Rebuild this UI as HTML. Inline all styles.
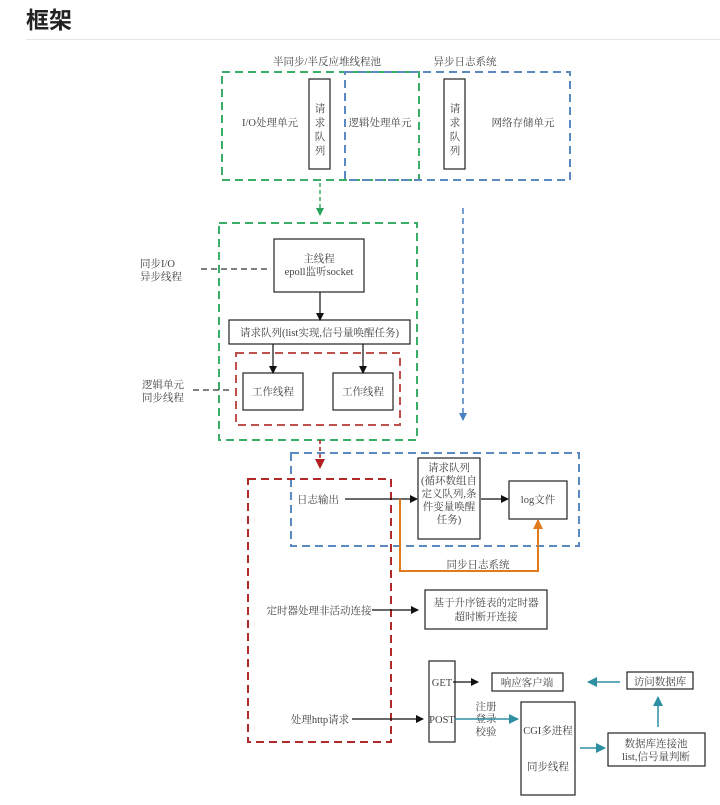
<!DOCTYPE html>
<html><head><meta charset="utf-8"><style>
html,body{margin:0;padding:0;background:#fff;width:720px;height:805px;overflow:hidden}
svg text{font-family:"Liberation Serif","Noto Serif CJK SC",serif;font-size:10.5px;fill:#444}
</style></head><body>
<svg width="720" height="805" xmlns="http://www.w3.org/2000/svg">
<defs>
<marker id="ak" markerWidth="8" markerHeight="8" refX="7" refY="4" orient="auto" markerUnits="userSpaceOnUse"><path d="M0,0 L8,4 L0,8z" fill="#111"/></marker>
<marker id="ag" markerWidth="8" markerHeight="8" refX="7" refY="4" orient="auto" markerUnits="userSpaceOnUse"><path d="M0,0 L8,4 L0,8z" fill="#2aa35a"/></marker>
<marker id="ab" markerWidth="8" markerHeight="8" refX="7" refY="4" orient="auto" markerUnits="userSpaceOnUse"><path d="M0,0 L8,4 L0,8z" fill="#4a7fc0"/></marker>
<marker id="ar" markerWidth="10" markerHeight="10" refX="9" refY="5" orient="auto" markerUnits="userSpaceOnUse"><path d="M0,0 L10,5 L0,10z" fill="#b01e1e"/></marker>
<marker id="ao" markerWidth="10" markerHeight="10" refX="9" refY="5" orient="auto" markerUnits="userSpaceOnUse"><path d="M0,0 L10,5 L0,10z" fill="#e07a1a"/></marker>
<marker id="at" markerWidth="10" markerHeight="10" refX="9" refY="5" orient="auto" markerUnits="userSpaceOnUse"><path d="M0,0 L10,5 L0,10z" fill="#2e8fa3"/></marker>
</defs>
<text x="26" y="28" style="font-family:'Liberation Sans','Noto Sans CJK SC',sans-serif;font-size:23px;font-weight:bold;fill:#222">框架</text>
<line x1="26" y1="39.5" x2="720" y2="39.5" stroke="#e5e5e5"/>

<g fill="none" stroke-width="2" stroke-dasharray="8,5">
<rect x="222" y="72" width="197" height="108" stroke="#3aae66"/>
<rect x="345" y="72" width="225" height="108" stroke="#5a8ac0"/>
<rect x="219" y="223" width="198" height="217" stroke="#3aae66"/>
<rect x="236" y="353" width="164" height="72" stroke="#c0504d"/>
<rect x="291" y="453" width="288" height="93" stroke="#5a8ac0"/>
<rect x="248" y="479" width="143" height="263" stroke="#b02a2a"/>
</g>
<text x="327" y="65" text-anchor="middle">半同步/半反应堆线程池</text>
<text x="465" y="65" text-anchor="middle">异步日志系统</text>
<g fill="#fff" stroke="#222" stroke-width="1.2">
<rect x="309" y="79" width="21" height="90"/>
<rect x="444" y="79" width="21" height="90"/>
<rect x="274" y="239" width="90" height="53"/>
<rect x="229" y="320" width="181" height="24"/>
<rect x="243" y="373" width="60" height="37"/>
<rect x="333" y="373" width="60" height="37"/>
<rect x="418" y="458" width="62" height="81"/>
<rect x="509" y="481" width="58" height="38"/>
<rect x="425" y="590" width="122" height="39"/>
<rect x="429" y="661" width="26" height="81"/>
<rect x="492" y="673" width="71" height="18"/>
<rect x="627" y="672" width="66" height="17"/>
<rect x="521" y="702" width="54" height="93"/>
<rect x="608" y="733" width="97" height="33"/>
</g>
<text x="270" y="126" text-anchor="middle">I/O处理单元</text>
<text x="320" y="112" text-anchor="middle">请</text><text x="320" y="126" text-anchor="middle">求</text><text x="320" y="140" text-anchor="middle">队</text><text x="320" y="154" text-anchor="middle">列</text>
<text x="380" y="126" text-anchor="middle">逻辑处理单元</text>
<text x="455" y="112" text-anchor="middle">请</text><text x="455" y="126" text-anchor="middle">求</text><text x="455" y="140" text-anchor="middle">队</text><text x="455" y="154" text-anchor="middle">列</text>
<text x="523" y="126" text-anchor="middle">网络存储单元</text>

<line x1="320" y1="183" x2="320" y2="215" stroke="#3aae66" stroke-width="1.5" stroke-dasharray="4,3" marker-end="url(#ag)"/>
<line x1="463" y1="208" x2="463" y2="420" stroke="#4a7fc0" stroke-width="1.5" stroke-dasharray="6,4" marker-end="url(#ab)"/>

<text x="319" y="262" text-anchor="middle">主线程</text>
<text x="319" y="275" text-anchor="middle">epoll监听socket</text>
<text x="319.5" y="336" text-anchor="middle">请求队列(list实现,信号量唤醒任务)</text>
<text x="273" y="395" text-anchor="middle">工作线程</text>
<text x="363" y="395" text-anchor="middle">工作线程</text>
<text x="140" y="267">同步I/O</text><text x="140" y="280">异步线程</text>
<text x="142" y="388">逻辑单元</text><text x="142" y="401">同步线程</text>
<g stroke="#555" stroke-width="1.5" stroke-dasharray="6,4"><line x1="201" y1="269" x2="268" y2="269"/><line x1="193" y1="390" x2="233" y2="390"/></g>
<g stroke="#111" stroke-width="1.2">
<line x1="320" y1="292" x2="320" y2="320" marker-end="url(#ak)"/>
<line x1="273" y1="344" x2="273" y2="373" marker-end="url(#ak)"/>
<line x1="363" y1="344" x2="363" y2="373" marker-end="url(#ak)"/>
<line x1="345" y1="499" x2="417" y2="499" marker-end="url(#ak)"/>
<line x1="481" y1="499" x2="508" y2="499" marker-end="url(#ak)"/>
<line x1="372" y1="610" x2="418" y2="610" marker-end="url(#ak)"/>
<line x1="352" y1="719" x2="423" y2="719" marker-end="url(#ak)"/>
<line x1="453" y1="682" x2="478" y2="682" marker-end="url(#ak)"/>
</g>
<line x1="320" y1="440" x2="320" y2="468" stroke="#b01e1e" stroke-width="1.5" stroke-dasharray="4,3" marker-end="url(#ar)"/>
<polyline points="400,499 400,571 538,571 538,520" fill="none" stroke="#e07a1a" stroke-width="2" marker-end="url(#ao)"/>
<text x="318" y="503" text-anchor="middle">日志输出</text>
<text x="449" y="471" text-anchor="middle">请求队列</text>
<text x="449" y="484" text-anchor="middle">(循环数组自</text>
<text x="449" y="497" text-anchor="middle">定义队列,条</text>
<text x="449" y="510" text-anchor="middle">件变量唤醒</text>
<text x="449" y="523" text-anchor="middle">任务)</text>
<text x="538" y="503" text-anchor="middle">log文件</text>
<text x="478" y="568" text-anchor="middle">同步日志系统</text>
<text x="319" y="614" text-anchor="middle">定时器处理非活动连接</text>
<text x="486" y="606" text-anchor="middle">基于升序链表的定时器</text>
<text x="486" y="620" text-anchor="middle">超时断开连接</text>
<text x="442" y="686" text-anchor="middle">GET</text>
<text x="442" y="723" text-anchor="middle">POST</text>
<text x="320" y="723" text-anchor="middle">处理http请求</text>
<text x="527" y="686" text-anchor="middle">响应客户端</text>
<text x="660" y="685" text-anchor="middle">访问数据库</text>
<text x="486" y="710" text-anchor="middle">注册</text><text x="486" y="722" text-anchor="middle">登录</text><text x="486" y="735" text-anchor="middle">校验</text>
<text x="548" y="734" text-anchor="middle">CGI多进程</text>
<text x="548" y="770" text-anchor="middle">同步线程</text>
<text x="656" y="747" text-anchor="middle">数据库连接池</text>
<text x="656" y="760" text-anchor="middle">list,信号量判断</text>
<g stroke="#2e8fa3" stroke-width="1.5">
<line x1="455" y1="719" x2="518" y2="719" marker-end="url(#at)"/>
<line x1="580" y1="748" x2="605" y2="748" marker-end="url(#at)"/>
<line x1="658" y1="727" x2="658" y2="697" marker-end="url(#at)"/>
<line x1="620" y1="682" x2="588" y2="682" marker-end="url(#at)"/>
</g>
</svg>
</body></html>
